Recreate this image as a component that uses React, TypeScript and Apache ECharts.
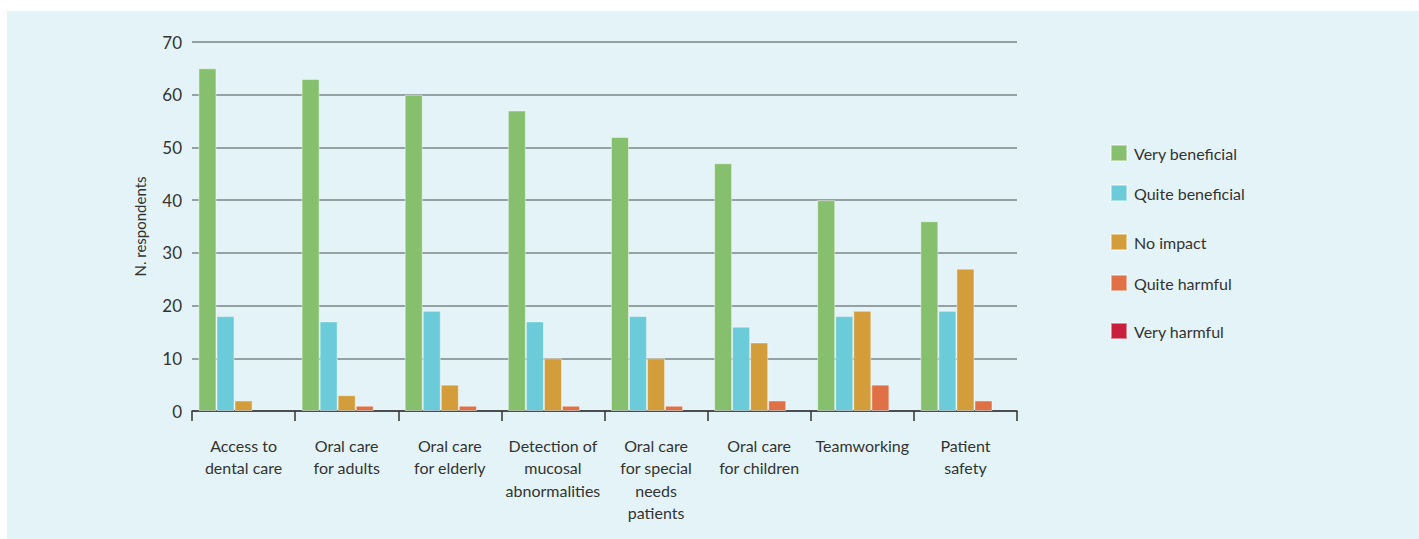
import React, { useEffect, useRef } from "react";
import * as echarts from "echarts";

const categories = [
  "Access to\ndental care",
  "Oral care\nfor adults",
  "Oral care\nfor elderly",
  "Detection of\nmucosal\nabnormalities",
  "Oral care\nfor special\nneeds\npatients",
  "Oral care\nfor children",
  "Teamworking",
  "Patient\nsafety",
];
const seriesNames = ["Very beneficial", "Quite beneficial", "No impact", "Quite harmful", "Very harmful"];
const veryBeneficial = [65, 63, 60, 57, 52, 47, 40, 36];
const quiteBeneficial = [18, 17, 19, 17, 18, 16, 18, 19];
const noImpact = [2, 3, 5, 10, 10, 13, 19, 27];
const quiteHarmful = [0, 1, 1, 1, 1, 2, 5, 2];
const veryHarmful = [0, 0, 0, 0, 0, 0, 0, 0];
const colors = ["#86c06e", "#6bcbd9", "#d39d3b", "#e07146", "#c8203c"];
const legendTops = [152, 192, 241, 282, 330];

export default function App() {
  const ref = useRef<HTMLDivElement>(null);
  useEffect(() => {
    if (!ref.current) return;
    const chart = echarts.init(ref.current, undefined, { renderer: "svg" });
    const data = [veryBeneficial, quiteBeneficial, noImpact, quiteHarmful, veryHarmful];
    const font = "Lato, 'Noto Sans', sans-serif";
    chart.setOption({
      animation: false,
      textStyle: { fontFamily: font },
      grid: { left: 192, right: 1419 - 1017, top: 42, bottom: 539 - 411, containLabel: false },
      legend: seriesNames.map((n, i) => ({
        data: [n],
        left: 1110,
        top: legendTops[i] - 8,
        orient: "vertical",
        itemWidth: 16,
        itemHeight: 16,
        itemGap: 0,
        icon: "rect",
        textStyle: { fontSize: 16, color: "#333", fontFamily: font, padding: [0, 0, 0, 2] },
        padding: 0,
      })),
      xAxis: {
        type: "category",
        data: categories,
        axisLine: { lineStyle: { color: "#333", width: 1.5 } },
        axisTick: { show: true, length: 10, lineStyle: { color: "#333", width: 1.5 } },
        axisLabel: { fontSize: 16, color: "#333", lineHeight: 22.5, margin: 23, interval: 0 },
      },
      yAxis: {
        type: "value",
        min: 0,
        max: 70,
        interval: 10,
        name: "N. respondents",
        nameLocation: "middle",
        nameGap: 45,
        nameRotate: 90,
        nameTextStyle: { fontSize: 15, color: "#333" },
        axisLine: { show: false },
        axisTick: { show: false },
        axisLabel: { fontSize: 17, color: "#333", margin: 10 },
        splitLine: { lineStyle: { color: "#7b8686", width: 1.6 } },
      },
      series: seriesNames.map((n, i) => ({
        name: n,
        type: "bar",
        data: data[i].map((v) => (v === 0 ? "-" : v)),
        barGap: "0%",
        barCategoryGap: "12.5%",
        itemStyle: { color: colors[i], borderColor: "rgba(255,255,255,0.45)", borderWidth: 1 },
      })),
    });
    return () => chart.dispose();
  }, []);
  return (
    <div style={{ position: "fixed", left: 0, top: 0, width: 1419, height: 539, background: "#fff" }}>
      <div style={{ position: "absolute", left: 7, top: 11, width: 1412, height: 528, background: "#e4f3f7" }} />
      <div ref={ref} style={{ position: "absolute", left: 0, top: 0, width: 1419, height: 539 }} />
    </div>
  );
}
